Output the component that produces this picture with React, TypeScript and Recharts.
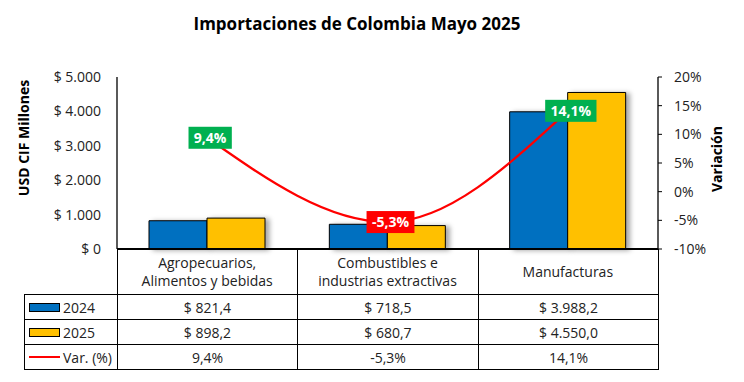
import React from "react";
import { ComposedChart, Bar, Line, XAxis, YAxis, LabelList } from "recharts";

const categories = ["Agropecuarios,\nAlimentos y bebidas", "Combustibles e\nindustrias extractivas", "Manufacturas"];
const imports2024 = [821.4, 718.5, 3988.2];
const imports2025 = [898.2, 680.7, 4550.0];
const variation = [9.4, -5.3, 14.1];
const usdTicks = [0, 1000, 2000, 3000, 4000, 5000];
const pctTicks = [-10, -5, 0, 5, 10, 15, 20];

const data = categories.map((name, i) => ({
  name,
  y2024: imports2024[i],
  y2025: imports2025[i],
  var: variation[i],
}));

const FONT = "'Open Sans', sans-serif";
const TEXT = "#222";
const BLUE = "#0070C0";
const GOLD = "#FFC000";
const RED = "#FF0000";
const GREEN = "#00B050";

const thousands = (n: number) => String(n).replace(/\B(?=(\d{3})+(?!\d))/g, ".");
const money = (v: number) => {
  const [int, dec] = v.toFixed(1).split(".");
  return `$ ${thousands(Number(int))},${dec}`;
};
const pct = (v: number) => v.toFixed(1).replace(".", ",") + "%";

// rough glyph widths for bold 14px Open Sans
const charW: Record<string, number> = { ",": 4, "%": 12.3, "-": 4.6 };

function VarLabel(props: any) {
  const { x, y, value } = props;
  const text = pct(value);
  const w = [...text].reduce((s, c) => s + (charW[c] ?? 8), 0) + 11;
  const h = 22;
  const cx = x + 3;
  return (
    <g>
      <rect x={cx - w / 2} y={y - h / 2} width={w} height={h} fill={value >= 0 ? GREEN : RED} />
      <text x={cx} y={y + 5} textAnchor="middle" fill="#fff" fontWeight={700} fontSize={14} fontFamily={FONT}>
        {text}
      </text>
    </g>
  );
}

function CategoryTick({ x, y, payload }: any) {
  const lines = String(payload.value).split("\n");
  const mid = y + 27.5;
  return (
    <text textAnchor="middle" fontSize={14} fill={TEXT} fontFamily={FONT}>
      {lines.map((l, i) => (
        <tspan key={i} x={x} y={mid + (i - (lines.length - 1) / 2) * 18}>
          {l}
        </tspan>
      ))}
    </text>
  );
}

const colX = [24, 117, 297, 478, 658];
const rowTops = [294, 319, 344];

const rows = [
  { key: "2024", kind: "box", color: BLUE, cells: imports2024.map(money) },
  { key: "2025", kind: "box", color: GOLD, cells: imports2025.map(money) },
  { key: "Var. (%)", kind: "line", color: RED, cells: variation.map(pct) },
];

function DataTable() {
  const cells: React.ReactNode[] = [];
  for (let c = 1; c < 4; c++) {
    cells.push(
      <div
        key={"h" + c}
        style={{
          position: "absolute",
          left: colX[c],
          top: 249,
          width: colX[c + 1] - colX[c] + 1,
          height: 294 - 249 + 1,
          boxSizing: "border-box",
          borderLeft: "1px solid #000",
          borderRight: "1px solid #000",
          borderBottom: "1px solid #000",
        }}
      />
    );
  }
  rows.forEach((row, r) => {
    for (let c = 0; c < 4; c++) {
      cells.push(
        <div
          key={r + "-" + c}
          style={{
            position: "absolute",
            left: colX[c],
            top: rowTops[r],
            width: colX[c + 1] - colX[c] + 1,
            height: 26,
            boxSizing: "border-box",
            border: "1px solid #000",
            display: "flex",
            alignItems: "center",
            justifyContent: c === 0 ? "flex-start" : "center",
            paddingLeft: c === 0 ? 4 : 0,
            fontSize: 14,
            color: TEXT,
            whiteSpace: "nowrap",
          }}
        >
          {c === 0 ? (
            <>
              {row.kind === "box" ? (
                <span
                  style={{
                    display: "inline-block",
                    width: 31,
                    height: 9,
                    boxSizing: "border-box",
                    border: "1px solid #000",
                    background: row.color,
                    marginRight: 3,
                  }}
                />
              ) : (
                <span style={{ display: "inline-block", width: 31, height: 2, background: row.color, marginRight: 3 }} />
              )}
              {row.key}
            </>
          ) : (
            row.cells[c - 1]
          )}
        </div>
      );
    }
  });
  return <>{cells}</>;
}

export default function App() {
  return (
    <div
      style={{
        position: "absolute",
        left: 0,
        top: 0,
        width: 744,
        height: 382,
        background: "#fff",
        fontFamily: FONT,
      }}
    >
      <style>{`.shadowed .recharts-bar-rectangles { filter: drop-shadow(4px 1px 2.5px rgba(0,0,0,0.35)); }`}</style>
      <div
        style={{
          position: "absolute",
          left: 357 - 250,
          top: 13,
          width: 500,
          textAlign: "center",
          fontSize: 17,
          lineHeight: "22px",
          fontWeight: 700,
          color: "#000",
        }}
      >
        Importaciones de Colombia Mayo 2025
      </div>
      <div
        style={{
          position: "absolute",
          left: 23.5 - 100,
          top: 138 - 10,
          width: 200,
          height: 20,
          lineHeight: "20px",
          textAlign: "center",
          transform: "rotate(-90deg)",
          fontSize: 14,
          fontWeight: 700,
          color: "#000",
        }}
      >
        USD CIF Millones
      </div>
      <div
        style={{
          position: "absolute",
          left: 717 - 100,
          top: 159 - 10,
          width: 200,
          height: 20,
          lineHeight: "20px",
          textAlign: "center",
          transform: "rotate(-90deg)",
          fontSize: 14,
          fontWeight: 700,
          color: "#000",
        }}
      >
        Variación
      </div>
      <div className="shadowed" style={{ position: "absolute", left: 0, top: 0 }}>
        <ComposedChart
          width={744}
          height={382}
          data={data}
          margin={{ top: 77, right: 0, bottom: 89, left: 0 }}
          barGap={0}
        >
          <XAxis
            dataKey="name"
            xAxisId="x"
            height={44}
            axisLine={{ stroke: "#000", strokeWidth: 2 }}
            tickLine={false}
            tickSize={0}
            tickMargin={0}
            tick={<CategoryTick />}
            interval={0}
          />
          <YAxis
            yAxisId="usd"
            width={117}
            domain={[0, 5000]}
            ticks={usdTicks}
            tickFormatter={(v: number) => `$ ${thousands(v)}`}
            axisLine={{ stroke: "#000", strokeWidth: 1.3 }}
            tickLine={false}
            tickMargin={10}
            tick={{ fontSize: 14, fill: TEXT, fontFamily: FONT }}
          />
          <YAxis
            yAxisId="pct"
            orientation="right"
            width={86}
            domain={[-10, 20]}
            ticks={pctTicks}
            tickFormatter={(v: number) => `${v}%`}
            axisLine={{ stroke: "#000", strokeWidth: 1.3 }}
            tickLine={{ stroke: "#000" }}
            tickSize={4}
            tickMargin={12}
            tick={{ fontSize: 14, fill: TEXT, fontFamily: FONT, textAnchor: "start" }}
          />
          <Bar
            xAxisId="x"
            yAxisId="usd"
            dataKey="y2024"
            fill={BLUE}
            stroke="#000"
            strokeWidth={1}
            barSize={58}
            isAnimationActive={false}
          />
          <Bar
            xAxisId="x"
            yAxisId="usd"
            dataKey="y2025"
            fill={GOLD}
            stroke="#000"
            strokeWidth={1}
            barSize={58}
            isAnimationActive={false}
          />
          <Line
            xAxisId="x"
            yAxisId="pct"
            dataKey="var"
            type="monotone"
            stroke={RED}
            strokeWidth={2.2}
            dot={false}
            isAnimationActive={false}
          >
            <LabelList dataKey="var" content={<VarLabel />} />
          </Line>
        </ComposedChart>
      </div>
      <DataTable />
    </div>
  );
}
